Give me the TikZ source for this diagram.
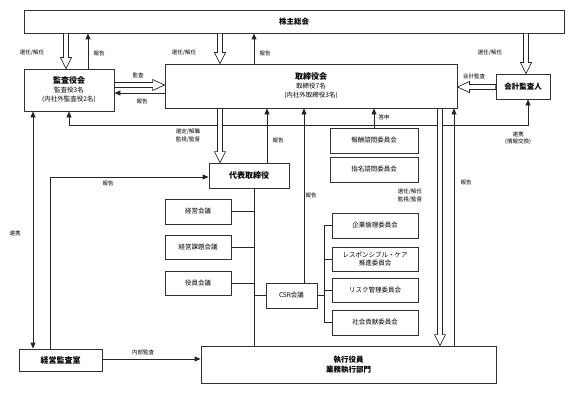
\documentclass[tikz,border=0pt]{standalone}
\usepackage{fontspec}
\setmainfont{Noto Sans CJK JP}
\usetikzlibrary{calc,arrows.meta}
\tikzset{
 box/.style={draw=black!80, line width=0.8pt, fill=white, inner sep=0pt, align=center, font=\fontsize{6.5}{9}\selectfont},
 bigtxt/.style={font=\bfseries\fontsize{8}{10}\selectfont},
 lab/.style={font=\fontsize{5.5}{7.5}\selectfont, inner sep=0pt, align=center},
 conn/.style={draw=black!85, line width=0.8pt},
 arr/.style={conn, -{Triangle[length=6pt,width=5pt]}},
 darr/.style={conn, {Triangle[length=6pt,width=5pt]}-{Triangle[length=6pt,width=5pt]}},
 hollow/.style={draw=black!85, line width=0.7pt, fill=white, line join=miter},
}
\newcommand\hdown[2]{\draw[hollow] let \p1=(#1), \p2=(#2) in
  (\x1-2.5pt,\y1) -- (\x1-2.5pt,\y2+11pt) -- (\x1-5.5pt,\y2+11pt) -- (\x1,\y2)
  -- (\x1+5.5pt,\y2+11pt) -- (\x1+2.5pt,\y2+11pt) -- (\x1+2.5pt,\y1) -- cycle;}
\newcommand\hright[2]{\draw[hollow] let \p1=(#1), \p2=(#2) in
  (\x1,\y1+2.5pt) -- (\x2-12pt,\y1+2.5pt) -- (\x2-12pt,\y1+5.5pt) -- (\x2,\y1)
  -- (\x2-12pt,\y1-5.5pt) -- (\x2-12pt,\y1-2.5pt) -- (\x1,\y1-2.5pt) -- cycle;}
\newcommand\hleft[2]{\draw[hollow] let \p1=(#1), \p2=(#2) in
  (\x1,\y1+2.5pt) -- (\x2+12pt,\y1+2.5pt) -- (\x2+12pt,\y1+5.5pt) -- (\x2,\y1)
  -- (\x2+12pt,\y1-5.5pt) -- (\x2+12pt,\y1-2.5pt) -- (\x1,\y1-2.5pt) -- cycle;}
\begin{document}
\begin{tikzpicture}[x=1pt,y=-1pt]
\useasboundingbox (0,0) rectangle (573,396);

% boxes
\node[box, minimum width=540pt, minimum height=23pt] (ks) at (294,21.5) {\bfseries\fontsize{7.5}{9}\selectfont 株主総会};
\node[box, minimum width=90pt, minimum height=42pt] (kansa) at (69,90)
  {{\bfseries\fontsize{8}{9}\selectfont 監査役会}\\監査役3名\\(内社外監査役2名)};
\node[box, minimum width=292pt, minimum height=44pt] (tori) at (311,86)
  {{\bfseries\fontsize{8}{9}\selectfont 取締役会}\\取締役7名\\(内社外取締役3名)};
\node[box, minimum width=54pt, minimum height=25pt] (kaikei) at (523,86.5) {\bfseries\fontsize{7.5}{9}\selectfont 会計監査人};
\node[box, minimum width=80pt, minimum height=25pt] (daihyo) at (249,175.5) {\bfseries\fontsize{8}{9}\selectfont 代表取締役};
\node[box, minimum width=66pt, minimum height=25pt] (keiei) at (198,211.5) {経営会議};
\node[box, minimum width=66pt, minimum height=24pt] (kadai) at (198,247) {経営課題会議};
\node[box, minimum width=66pt, minimum height=24pt] (yakuin) at (198,283) {役員会議};
\node[box, minimum width=51pt, minimum height=25pt] (csr) at (291.5,295.5) {CSR会議};
\node[box, minimum width=88pt, minimum height=25pt] (hoshu) at (374,140.5) {報酬諮問委員会};
\node[box, minimum width=88pt, minimum height=25pt] (shimei) at (374,169.5) {指名諮問委員会};
\node[box, minimum width=86pt, minimum height=25pt] (rinri) at (375,225.5) {企業倫理委員会};
\node[box, minimum width=86pt, minimum height=24pt, font=\fontsize{6.5}{8}\selectfont] (rc) at (375,259) {レスポンシブル・ケア\\推進委員会};
\node[box, minimum width=86pt, minimum height=24pt] (risk) at (375,290) {リスク管理委員会};
\node[box, minimum width=86pt, minimum height=25pt] (shakai) at (375,322.5) {社会貢献委員会};
\node[box, minimum width=295pt, minimum height=37pt, font=\bfseries\fontsize{7.5}{10}\selectfont] (shikko) at (348.5,364.5) {執行役員\\業務執行部門};
\node[box, minimum width=83pt, minimum height=22pt] (kshitsu) at (60.5,360) {\bfseries\fontsize{8}{9}\selectfont 経営監査室};

% 連携（情報交換）
\draw[darr] (kansa.south -| 69,0) -- (69,125) -- (528,125) -- (kaikei.south -| 528,0);

% shareholders links
\hdown{ks.south -| 66,0}{kansa.north -| 66,0}
\draw[arr] (kansa.north -| 88,0) -- (ks.south -| 88,0);
\hdown{ks.south -| 220,0}{tori.north -| 220,0}
\draw[arr] (tori.north -| 254,0) -- (ks.south -| 254,0);
\hdown{ks.south -| 526,0}{kaikei.north -| 526,0}

% kansa <-> tori
\hright{kansa.east |- 0,85}{tori.west |- 0,85}
\draw[arr] (tori.west |- 0,93) -- (kansa.east |- 0,93);
% kaikei -> tori
\hleft{kaikei.west |- 0,87}{tori.east |- 0,87}

% below board
\draw[arr] (hoshu.north -| 374,0) -- (tori.south -| 374,0);
\hdown{tori.south -| 220,0}{daihyo.north -| 220,0}
\draw[arr] (daihyo.north -| 267,0) -- (tori.south -| 267,0);
\draw[arr] (csr.north -| 304,0) -- (tori.south -| 304,0);
\hdown{tori.south -| 440,0}{shikko.north -| 440,0}
\draw[arr] (shikko.north -| 454,0) -- (tori.south -| 454,0);

% audit office
\draw[darr] (kansa.south -| 33,0) -- (kshitsu.north -| 33,0);
\draw[arr] (kshitsu.north -| 50,0) -- (50,177) -- (daihyo.west |- 0,177);
\draw[arr] (kshitsu.east |- 0,359) -- (shikko.west |- 0,359);

% tree
\draw[conn] (daihyo.south -| 254,0) -- (shikko.north -| 254,0);
\draw[conn] (keiei.east) -- (keiei.east -| 254,0);
\draw[conn] (kadai.east) -- (kadai.east -| 254,0);
\draw[conn] (yakuin.east) -- (yakuin.east -| 254,0);
\draw[conn] (csr.west) -- (csr.west -| 254,0);
\draw[conn] (csr.east) -- (csr.east -| 324,0);
\draw[conn] (rinri.west) -| (324,0 |- shakai.west) -- (shakai.west);
\draw[conn] (rc.west) -- (rc.west -| 324,0);
\draw[conn] (risk.west) -- (risk.west -| 324,0);

% labels
\node[lab] (l1) at (32,53) {選任/解任};
\node[lab] (l2) at (99,53) {報告};
\node[lab] (l3) at (184,53) {選任/解任};
\node[lab] (l4) at (265,53) {報告};
\node[lab] (l5) at (490,53) {選任/解任};
\node[lab] (l6) at (138,75) {監査};
\node[lab] (l7) at (142,101) {報告};
\node[lab] (l8) at (474,76) {会計監査};
\node[lab] (l9) at (384,117) {答申};
\node[lab] (l10) at (518,138) {連携\\(情報交換)};
\node[lab] (l11) at (188,135.5) {選定/解職\\監視/監督};
\node[lab] (l12) at (278,140) {報告};
\node[lab] (l13) at (108,183) {報告};
\node[lab] (l14) at (15,233) {連携};
\node[lab] (l15) at (311,195) {報告};
\node[lab] (l16) at (410,195.5) {選任/解任\\監視/監督};
\node[lab] (l17) at (466,182) {報告};
\node[lab] (l18) at (143,352) {内部監査};
\end{tikzpicture}
\end{document}
